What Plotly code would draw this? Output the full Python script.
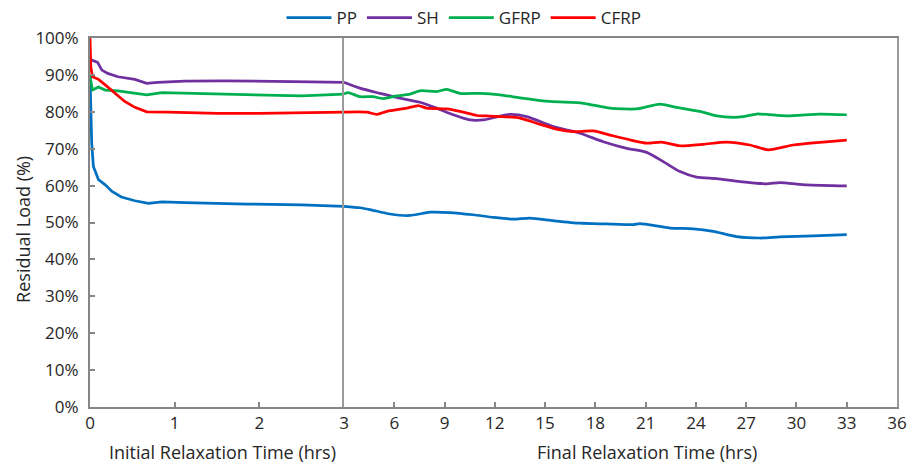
import plotly.graph_objects as go

# ---- data (hours, residual load %) ----
pp_t = [0, 0.01, 0.02, 0.04, 0.10, 0.18, 0.26, 0.37, 0.53, 0.69, 0.85, 1.12, 1.59, 1.85, 2.5, 3.0,
        3.95, 4.55, 5.74, 6.94, 8.13, 9.32, 10.71, 11.91, 13.10, 14.10, 15.49, 17.08, 18.67,
        20.26, 20.66, 22.45, 23.84, 25.04, 26.43, 27.82, 29.01, 31.0, 33.0]
pp_v = [90, 80, 71.6, 65.2, 61.6, 60.2, 58.4, 56.9, 55.9, 55.2, 55.6, 55.4, 55.1, 55.0, 54.8, 54.4,
        54.0, 53.5, 52.3, 51.9, 52.8, 52.7, 52.1, 51.4, 50.9, 51.2, 50.5, 49.8, 49.6,
        49.4, 49.7, 48.5, 48.3, 47.6, 46.2, 45.8, 46.1, 46.4, 46.7]

sh_t = [0, 0.02, 0.09, 0.14, 0.21, 0.33, 0.53, 0.67, 0.80, 1.12, 1.59, 1.85, 2.4, 3.0,
        3.95, 5.15, 6.34, 7.53, 8.53, 9.52, 10.52, 11.31, 12.90, 13.90, 15.49, 17.08, 18.47,
        19.87, 21.06, 22.05, 23.05, 24.04, 25.24, 26.63, 28.22, 29.01, 30.61, 33.0]
sh_v = [94.5, 94.0, 93.4, 91.3, 90.4, 89.5, 88.8, 87.7, 88.0, 88.3, 88.4, 88.4, 88.2, 88.0,
        86.4, 85.0, 83.7, 82.6, 81.0, 79.2, 77.8, 77.8, 79.3, 78.7, 76.0, 74.2, 71.9,
        70.1, 69.0, 66.5, 63.8, 62.3, 61.9, 61.1, 60.5, 60.8, 60.2, 59.9]

gf_t = [0, 0.03, 0.10, 0.18, 0.33, 0.53, 0.67, 0.85, 1.59, 2.5, 3.0,
        3.24, 3.95, 4.73, 5.33, 6.14, 6.94, 7.53, 8.53, 9.13, 9.92, 11.11, 12.31, 13.50,
        15.29, 17.28, 18.87, 20.46, 21.85, 22.85, 24.24, 25.24, 26.23, 26.82, 27.62, 29.41,
        31.40, 33.0]
gf_v = [89.5, 85.9, 86.7, 85.9, 85.7, 85.0, 84.6, 85.2, 84.8, 84.3, 84.8,
        85.2, 84.1, 84.1, 83.6, 84.3, 84.8, 85.7, 85.5, 86.1, 85.0, 85.0, 84.6, 83.8,
        82.8, 82.3, 81.0, 80.8, 82.1, 81.2, 80.1, 78.9, 78.5, 78.7, 79.4, 78.9,
        79.4, 79.2]

cf_t = [0, 0.01, 0.03, 0.10, 0.18, 0.30, 0.41, 0.53, 0.67, 0.92, 1.51, 2.0, 3.0,
        4.35, 4.95, 5.33, 5.74, 6.74, 7.43, 7.93, 9.13, 10.12, 10.92, 11.51, 13.50, 14.50,
        15.69, 16.68, 17.87, 18.87, 20.06, 21.06, 21.95, 23.05, 24.44, 25.83, 27.22, 28.32,
        29.81, 31.40, 33.0]
cf_v = [100, 92, 89.5, 88.8, 87.3, 85.0, 82.8, 81.2, 80.0, 79.9, 79.6, 79.6, 79.9,
        79.9, 79.3, 79.8, 80.3, 81.0, 81.7, 81.0, 80.8, 79.9, 79.0, 78.9, 78.3, 76.9,
        75.3, 74.6, 74.8, 73.7, 72.4, 71.5, 71.8, 70.8, 71.2, 71.8, 71.0, 69.7,
        71.0, 71.7, 72.3]

names = ["PP", "SH", "GFRP", "CFRP"]
colors = ["#0070C0", "#7030A0", "#00B050", "#FF0000"]
times = [pp_t, sh_t, gf_t, cf_t]
values = [pp_v, sh_v, gf_v, cf_v]

init_ticks = [0, 1, 2, 3]
final_ticks = [6, 9, 12, 15, 18, 21, 24, 27, 30, 33, 36]
y_ticks = [0, 10, 20, 30, 40, 50, 60, 70, 80, 90, 100]
y_labels = [f"{v}%" for v in y_ticks]

SPLIT = 3.0
W, H = 917, 465
L, R, T, B = 90, 20, 38, 58
plot_w = W - L - R
d1 = (344 - L) / plot_w

FONT = "Open Sans"
TXT = "#262626"
AX = "#868686"

fig = go.Figure()
for name, t, v, c in zip(names, times, values, colors):
    ti = [a for a in t if a <= SPLIT]
    vi = [b for a, b in zip(t, v) if a <= SPLIT]
    tf = [a for a in t if a >= SPLIT]
    vf = [b for a, b in zip(t, v) if a >= SPLIT]
    fig.add_trace(go.Scatter(x=ti, y=vi, xaxis="x", yaxis="y", name=name, legendgroup=name,
                             mode="lines", line=dict(color=c, width=2.75)))
    fig.add_trace(go.Scatter(x=tf, y=vf, xaxis="x2", yaxis="y2", name=name, legendgroup=name,
                             showlegend=False, mode="lines",
                             line=dict(color=c, width=2.75, shape="spline", smoothing=0.6)))

tickfont = dict(family=FONT, size=17, color=TXT)
titlefont = dict(family=FONT, size=18, color=TXT)

fig.update_layout(
    width=W, height=H,
    margin=dict(l=L, r=R, t=T, b=B, autoexpand=False),
    paper_bgcolor="white", plot_bgcolor="white",
    showlegend=True,
    legend=dict(orientation="h", xref="paper", x=(464 - L) / plot_w, xanchor="center",
                yref="container", y=1.0, yanchor="top", itemwidth=45,
                font=dict(family=FONT, size=17, color=TXT), bgcolor="rgba(0,0,0,0)"),
    xaxis=dict(domain=[0, d1], range=[0, 3], tickvals=init_ticks, anchor="y",
               showline=True, linecolor=AX, linewidth=2, mirror=True,
               ticks="inside", ticklen=5, tickcolor=AX, tickwidth=1.5,
               showgrid=False, zeroline=False, tickfont=tickfont),
    xaxis2=dict(domain=[d1, 1], range=[3, 36], tickvals=final_ticks, anchor="y2",
                showline=True, linecolor=AX, linewidth=2, mirror=True,
                ticks="inside", ticklen=5, tickcolor=AX, tickwidth=1.5,
                showgrid=False, zeroline=False, tickfont=tickfont),
    yaxis=dict(range=[0, 100], tickvals=y_ticks, ticktext=y_labels, anchor="x",
               showline=True, linecolor=AX, linewidth=2, mirror=False,
               ticks="inside", ticklen=5, tickcolor=AX, tickwidth=1.5,
               showgrid=False, zeroline=False, tickfont=tickfont, ticklabelstandoff=6),
    yaxis2=dict(range=[0, 100], anchor="x2", showticklabels=False,
                showline=True, linecolor="#9a9a9a", linewidth=2, mirror=True,
                ticks="", showgrid=False, zeroline=False),
    annotations=[
        dict(text="Initial Relaxation Time (hrs)", xref="paper", yref="paper",
             x=(222 - L) / plot_w, y=0, xanchor="center", yanchor="middle", yshift=-45,
             showarrow=False, font=titlefont),
        dict(text="Final Relaxation Time (hrs)", xref="paper", yref="paper",
             x=(647 - L) / plot_w, y=0, xanchor="center", yanchor="middle", yshift=-45,
             showarrow=False, font=titlefont),
        dict(text="Residual Load (%)", xref="paper", yref="paper",
             x=0, y=0.48, xanchor="center", yanchor="middle", xshift=-(L - 23),
             textangle=-90, showarrow=False, font=titlefont),
    ],
)

fig.write_html("out.html")
